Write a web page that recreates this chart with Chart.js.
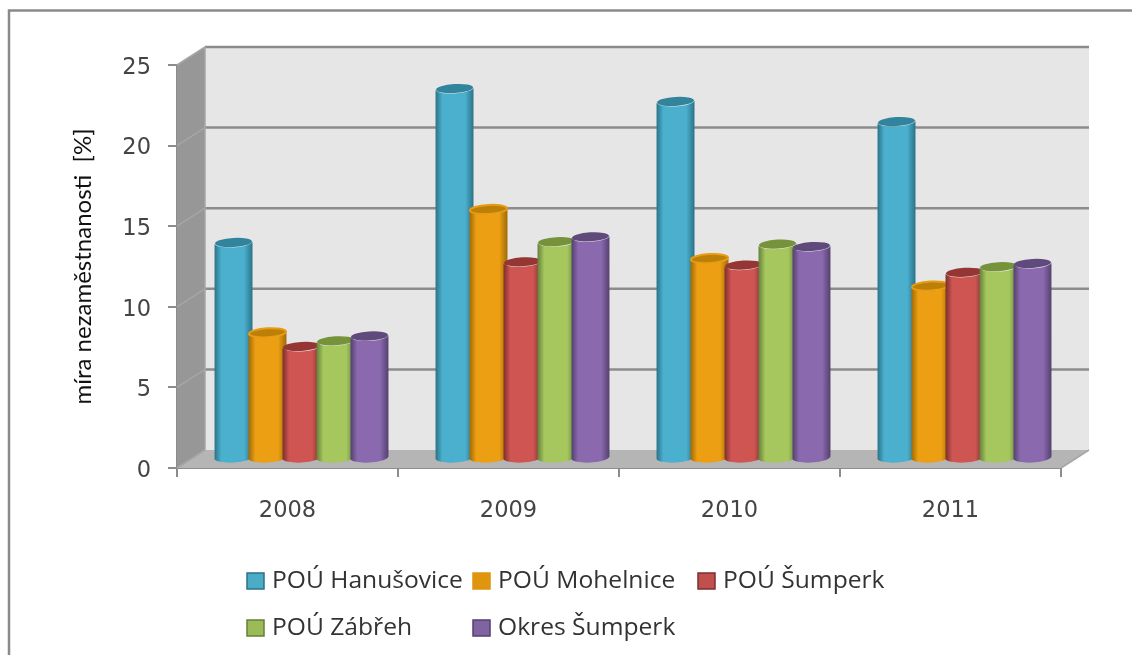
<!DOCTYPE html>
<html>
<head>
<meta charset="utf-8">
<title>míra nezaměstnanosti</title>
<script src="https://cdn.jsdelivr.net/npm/chart.js@4/dist/chart.umd.min.js"></script>
<style>
  html, body { margin: 0; background: #fff; }
  canvas { display: block; filter: blur(0.4px); }
</style>
</head>
<body>
<canvas id="chart" width="1132" height="655"></canvas>
<script>
const years = ["2008", "2009", "2010", "2011"];
const hanusovice = [13.4, 22.95, 22.15, 20.9];
const mohelnice = [7.8, 15.45, 12.4, 10.7];
const sumperk = [6.95, 12.2, 12.0, 11.55];
const zabreh = [7.3, 13.45, 13.3, 11.9];
const okres = [7.6, 13.75, 13.15, 12.1];
const seriesNames = ["POÚ Hanušovice", "POÚ Mohelnice", "POÚ Šumperk", "POÚ Zábřeh", "Okres Šumperk"];

// main, edge, cap, cap rim
const colors = [
  ["#4BB0CE", "#2A7287", "#31849B", null],
  ["#EC9F12", "#A06A06", "#BC7F08", "#E89C12"],
  ["#CF5552", "#7C2E2C", "#963634", null],
  ["#A5C75E", "#64803A", "#76933C", null],
  ["#8A69AE", "#54406F", "#604A7B", null],
];
const legendColors = ["#4BACC6", "#E0950F", "#C0504D", "#9BBB59", "#8064A2"];

const DEPTH_X = 28, DEPTH_Y = 18;
const BAR_DX = 14, BAR_DY = 9.5;
const RY = 5, TILT = -0.06;

function drawCylinder(ctx, el, c) {
  const w = el.width, l = el.x - w / 2, r = el.x + w / 2;
  const g = ctx.createLinearGradient(l, 0, r, 0);
  g.addColorStop(0, c[1]);
  g.addColorStop(0.18, c[0]);
  g.addColorStop(0.78, c[0]);
  g.addColorStop(1, c[1]);
  ctx.beginPath();
  ctx.ellipse(el.x, el.y, w / 2, RY, TILT, Math.PI, 0, true);
  ctx.lineTo(r, el.base);
  ctx.ellipse(el.x, el.base, w / 2, RY, TILT, 0, Math.PI);
  ctx.closePath();
  ctx.fillStyle = g;
  ctx.fill();
  ctx.beginPath();
  ctx.ellipse(el.x, el.y, w / 2 - 0.5, RY - 0.5, TILT, 0, Math.PI * 2);
  ctx.fillStyle = c[2];
  ctx.fill();
  if (c[3]) {
    ctx.strokeStyle = c[3];
    ctx.lineWidth = 2;
    ctx.stroke();
  }
}

const walls = {
  id: "walls",
  beforeDatasetsDraw(chart) {
    const { ctx, scales: { x, y } } = chart;
    const l = x.left, r = x.right, t = y.top, b = y.bottom;
    ctx.save();
    ctx.fillStyle = "#E6E6E6";
    ctx.fillRect(l + DEPTH_X, t - DEPTH_Y, r - l, b - t);
    ctx.fillStyle = "#979797";
    ctx.beginPath();
    ctx.moveTo(l, t);
    ctx.lineTo(l + DEPTH_X, t - DEPTH_Y);
    ctx.lineTo(l + DEPTH_X, b - DEPTH_Y);
    ctx.lineTo(l, b);
    ctx.fill();
    ctx.fillStyle = "#B5B5B5";
    ctx.beginPath();
    ctx.moveTo(l, b);
    ctx.lineTo(l + DEPTH_X, b - DEPTH_Y);
    ctx.lineTo(r + DEPTH_X, b - DEPTH_Y);
    ctx.lineTo(r, b);
    ctx.fill();
    // gridlines on the back wall and their diagonals on the side wall
    y.ticks.forEach((tick) => {
      const py = y.getPixelForValue(tick.value);
      ctx.strokeStyle = "#A6A6A6";
      ctx.lineWidth = 1.5;
      ctx.beginPath();
      ctx.moveTo(l, py);
      ctx.lineTo(l + DEPTH_X, py - DEPTH_Y);
      ctx.stroke();
      if (tick.value > 0) {
        ctx.strokeStyle = "#8C8C8C";
        ctx.lineWidth = 2.5;
        ctx.beginPath();
        ctx.moveTo(l + DEPTH_X, py - DEPTH_Y);
        ctx.lineTo(r + DEPTH_X, py - DEPTH_Y);
        ctx.stroke();
      }
    });
    ctx.strokeStyle = "#A6A6A6";
    ctx.lineWidth = 1.5;
    ctx.beginPath();
    ctx.moveTo(l + DEPTH_X, t - DEPTH_Y);
    ctx.lineTo(l + DEPTH_X, b - DEPTH_Y);
    ctx.moveTo(r, b);
    ctx.lineTo(r + DEPTH_X, b - DEPTH_Y);
    ctx.stroke();

    // later series overlap earlier ones, so draw them in dataset order
    ctx.translate(BAR_DX, -BAR_DY);
    chart.data.datasets.forEach((ds, i) => {
      chart.getDatasetMeta(i).data.forEach((el) => drawCylinder(ctx, el, colors[i]));
    });
    ctx.restore();
  },
  beforeDatasetDraw() {
    return false;
  },
  afterDraw(chart) {
    const { ctx } = chart;
    // outer frame of the picture
    ctx.save();
    ctx.strokeStyle = "#8A8A8A";
    ctx.lineWidth = 2.5;
    ctx.beginPath();
    ctx.moveTo(9, 655);
    ctx.lineTo(9, 10.5);
    ctx.lineTo(1132, 10.5);
    ctx.stroke();
    // legend in two aligned columns
    const pos = [[246, 581], [472, 581], [697, 581], [246, 628], [472, 628]];
    ctx.font = "23px 'Open Sans'";
    ctx.textBaseline = "middle";
    seriesNames.forEach((name, i) => {
      const [px, py] = pos[i];
      ctx.fillStyle = legendColors[i];
      ctx.fillRect(px + 1, py - 8, 17, 16);
      ctx.strokeStyle = i === 1 ? legendColors[i] : colors[i][1];
      ctx.lineWidth = 1.5;
      ctx.strokeRect(px + 1, py - 8, 17, 16);
      ctx.save();
      ctx.translate(px + 26, py);
      ctx.scale(1.07, 1);
      ctx.fillStyle = "#333";
      ctx.fillText(name, 0, 0);
      ctx.restore();
    });
    ctx.restore();
  },
};

const seriesValues = [hanusovice, mohelnice, sumperk, zabreh, okres];

new Chart(document.getElementById("chart"), {
  type: "bar",
  plugins: [walls],
  data: {
    labels: years,
    datasets: seriesValues.map((values, i) => ({
      label: seriesNames[i],
      data: values,
      backgroundColor: colors[i][0],
      categoryPercentage: 0.769,
      barPercentage: 1.118,
    })),
  },
  options: {
    responsive: false,
    animation: false,
    layout: { padding: { left: 0, top: 65, right: 71, bottom: 127 } },
    plugins: { legend: { display: false }, tooltip: { enabled: false } },
    scales: {
      x: {
        afterFit(s) { s.height = 60; },
        grid: { drawOnChartArea: false, color: "#8C8C8C", lineWidth: 2, tickLength: 9 },
        border: { color: "#8C8C8C", width: 2 },
        ticks: { color: "#444", padding: 21, font: { family: "'DejaVu Sans'", size: 22.5 }, maxRotation: 0 },
      },
      y: {
        min: 0,
        max: 25,
        afterFit(s) { s.width = 177; },
        grid: { drawOnChartArea: false, color: "#8C8C8C", lineWidth: 2, tickLength: 9 },
        border: { color: "#8C8C8C", width: 2 },
        ticks: { stepSize: 5, color: "#444", padding: 17, labelOffset: 3, font: { family: "'DejaVu Sans'", size: 22.5 } },
        title: {
          display: true,
          text: "míra nezaměstnanosti  [%]",
          color: "#111",
          padding: { top: 69, bottom: 0 },
          font: { family: "Lato", size: 24 },
        },
      },
    },
  },
});
</script>
</body>
</html>
